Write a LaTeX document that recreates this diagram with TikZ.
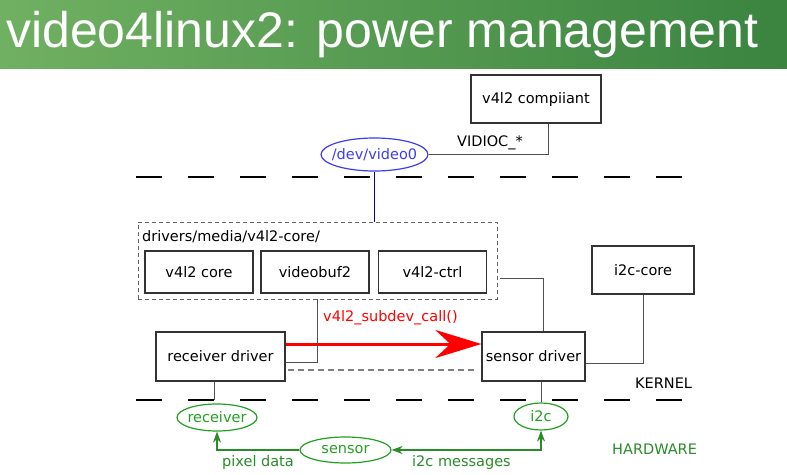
\documentclass[tikz,border=0pt]{standalone}
\usepackage{fontspec}
\setmainfont{DejaVu Sans}
\newfontfamily\titlefont{Liberation Sans}
\usetikzlibrary{shapes.geometric,arrows.meta}
\definecolor{barleft}{RGB}{112,176,98}
\definecolor{barright}{RGB}{58,132,64}
\definecolor{hwgreen}{RGB}{34,160,34}
\definecolor{arrgreen}{RGB}{40,140,40}
\definecolor{devblue}{RGB}{60,60,240}
\definecolor{linegray}{RGB}{80,80,80}
\begin{document}
\begin{tikzpicture}[x=1pt, y=-1pt,
    box/.style={draw=black!80, line width=1.2pt, rectangle, inner sep=0pt, font=\fontsize{14.5}{17}\selectfont},
    hwell/.style={draw=hwgreen, line width=1.2pt, ellipse, inner sep=0pt},
    conn/.style={draw=linegray, line width=1pt},
    divider/.style={line width=2.6pt, dash pattern=on 26pt off 26pt},
    lbl/.style={font=\fontsize{14.5}{17}\selectfont, inner sep=0pt},
    hwarrow/.style={arrgreen, line width=1.4pt}
  ]
  \useasboundingbox (0,0) rectangle (787,474);

  % Title bar
  \shade[left color=barleft, right color=barright] (0,0) rectangle (787,68);
  \node[anchor=base west, inner sep=0pt, white, font=\titlefont\fontsize{50}{56}\selectfont] (title) at (6,47) {video4linux2: power management};

  % User space
  \node[box, minimum width=130pt, minimum height=48pt] (compliant) at (536,99) {v4l2 compiiant};
  \node[draw=devblue, line width=1.2pt, ellipse, inner sep=0pt, minimum width=107pt, minimum height=33pt,
        label={[devblue, lbl]center:/dev/video0}] (devnode) at (374.5,154.5) {};
  \node[lbl] (vidioc) at (490,143) {VIDIOC\_*};
  \draw[conn] ([xshift=12pt]compliant.south) |- (devnode.east);

  % Dividers
  \coordinate (upL) at (136,177);
  \coordinate (upR) at (682,177);
  \coordinate (lowL) at (136,400);
  \coordinate (lowR) at (682,400);
  \draw[divider] (upL) -- (upR);
  \draw[divider] (lowL) -- (lowR);

  % v4l2 core
  \node[draw=black!60, dash pattern=on 4pt off 3pt, line width=0.9pt, rectangle, inner sep=0pt, minimum width=359pt, minimum height=77pt] (corebox) at (317.5,260.5) {};
  \node[lbl, anchor=west] (corepath) at (142,237) {drivers/media/v4l2-core/};
  \node[box, minimum width=108pt, minimum height=42pt] (v4lcore) at (199,272) {v4l2 core};
  \node[box, minimum width=108pt, minimum height=42pt] (vbuf) at (315,272) {videobuf2};
  \node[box, minimum width=108pt, minimum height=42pt] (vctrl) at (432.5,272) {v4l2-ctrl};
  \draw[blue!70!black, line width=1pt] (devnode.south) -- (devnode.south |- corebox.north);

  % Drivers
  \node[box, minimum width=129pt, minimum height=49pt] (recv) at (220.5,356.5) {receiver driver};
  \node[box, minimum width=103pt, minimum height=49pt] (sensdrv) at (533.5,356.5) {sensor driver};
  \node[box, minimum width=102pt, minimum height=48pt] (i2ccore) at (643,270) {i2c-core};
  \node[lbl, red, anchor=west] (subdev) at (323,318) {v4l2\_subdev\_call()};
  \draw[red, line width=3pt, -{Stealth[length=46pt,width=28pt]}] ([yshift=12.5pt]recv.east) -- ([yshift=12.5pt]sensdrv.west);
  \draw[conn] (corebox.south) |- ([yshift=-5.5pt]recv.east);
  \draw[gray, line width=1.2pt, dash pattern=on 6pt off 4pt, shorten <=2pt, shorten >=7pt] ([yshift=-13.5pt]recv.east) -- ([yshift=-13.5pt]sensdrv.west);
  \draw[conn] ([xshift=3pt,yshift=-17.5pt]corebox.east) -| ([xshift=9.5pt]sensdrv.north);
  \draw[conn] ([yshift=-6.5pt]sensdrv.east) -| (i2ccore.south);
  \node[lbl, anchor=west] (kernel) at (635,383) {KERNEL};

  % Hardware
  \node[hwell, minimum width=80pt, minimum height=27pt, label={[hwgreen, lbl]center:receiver}] (rx) at (217,417.5) {};
  \node[hwell, minimum width=54pt, minimum height=27pt, label={[hwgreen, lbl]center:i2c}] (i2c) at (541,416.5) {};
  \node[hwell, minimum width=91pt, minimum height=26pt, label={[hwgreen, lbl]center:sensor}] (sens) at (345.5,450) {};
  \draw[conn] ([xshift=-6.5pt]recv.south) -- ([xshift=-6.5pt]recv.south |- lowL);
  \draw[conn] (i2c.north |- sensdrv.south) -- (i2c.north);
  \draw[hwarrow, -{Stealth[length=11pt,width=8pt]}] (sens.west) -| (rx.south);
  \draw[hwarrow, {Stealth[length=11pt,width=8pt]}-{Stealth[length=11pt,width=8pt]}] (sens.east) -| (i2c.south);
  \node[lbl, arrgreen, anchor=west] (pixlbl) at (222,462) {pixel data};
  \node[lbl, arrgreen, anchor=west] (msglbl) at (412,462) {i2c messages};
  \node[lbl, arrgreen, anchor=west] (hwlbl) at (612,449) {HARDWARE};
\end{tikzpicture}
\end{document}
